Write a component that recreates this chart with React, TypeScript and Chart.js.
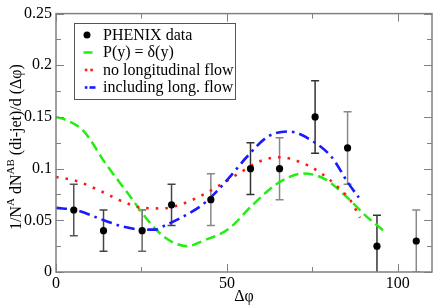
import React, { useEffect, useRef } from "react";
import { Chart, registerables } from "chart.js";

Chart.register(...registerables);

// ---- data ----
const phenixX = [5.2, 13.9, 25.2, 33.8, 45.3, 56.9, 65.4, 75.8, 85.3, 93.9, 105.4];
const phenixY = [0.06, 0.04, 0.04, 0.065, 0.07, 0.1, 0.1, 0.15, 0.12, 0.025, 0.03];
const phenixLow = [0.035, 0.02, 0.02, 0.045, 0.045, 0.075, 0.07, 0.115, 0.085, -0.005, 0.0];
const phenixHigh = [0.085, 0.06, 0.06, 0.085, 0.095, 0.125, 0.13, 0.185, 0.155, 0.055, 0.06];
const errorBarColors = ["#555", "#444", "#666", "#444", "#888", "#333", "#888", "#333", "#888", "#333", "#888"];

const deltaX = [0, 3, 7.9, 14.7, 21.5, 26.4, 30.3, 34, 38.5, 42.9, 50.6, 57.4, 65.2, 72.4, 78.8, 84.6, 90.4, 96.2];
const deltaY = [0.15, 0.147, 0.137, 0.104, 0.074, 0.052, 0.0377, 0.029, 0.025, 0.03, 0.042, 0.0645, 0.0866, 0.0953, 0.0897, 0.074, 0.055, 0.039];

const noFlowX = [0, 6, 13.8, 19.6, 25.4, 31.2, 37, 42.6, 48.2, 54.5, 60.3, 65.7, 70.9, 76.7, 82.5, 86.4, 88.9];
const noFlowY = [0.092, 0.088, 0.0772, 0.068, 0.062, 0.0615, 0.066, 0.074, 0.0845, 0.0975, 0.108, 0.111, 0.107, 0.0975, 0.082, 0.068, 0.0525];

const longFlowX = [0, 6, 13.8, 19.6, 25.4, 29, 31.7, 38, 43.8, 50.6, 56, 62, 68.1, 74.9, 80.7, 85.5, 88.6];
const longFlowY = [0.062, 0.0598, 0.0503, 0.044, 0.041, 0.041, 0.0447, 0.055, 0.0676, 0.091, 0.112, 0.131, 0.136, 0.127, 0.111, 0.086, 0.072];

const xTickValues = [0, 50, 100];
const yTickValues = [0, 0.05, 0.1, 0.15, 0.2, 0.25];
const yTickLabels = ["0", "0.05", "0.1", "0.15", "0.2", "0.25"];
const xMinorStep = 25;
const yMinorStep = 0.025;

const legendLabels = ["PHENIX data", "P(y) = \u03b4(y)", "no longitudinal flow", "including long. flow"];
const yTitleParts: { t: string; sup: boolean }[] = [
  { t: "1/N", sup: false },
  { t: "A", sup: true },
  { t: " dN", sup: false },
  { t: "AB", sup: true },
  { t: " (di-jet)/d (\u0394\u03c6)", sup: false },
];

const SERIF = '"Liberation Serif", "Times New Roman", serif';
const GREEN = "#22ee11";
const RED = "#ff1a1a";
const BLUE = "#1a1aff";

function toXY(xs: number[], ys: number[]) {
  return xs.map((x, i) => ({ x, y: ys[i] }));
}

const decor = {
  id: "decor",
  beforeDatasetsDraw(chart: any) {
    const { ctx, chartArea } = chart;
    const xs = chart.scales.x;
    const ys = chart.scales.y;
    ctx.save();
    ctx.beginPath();
    ctx.rect(chartArea.left, chartArea.top, chartArea.right - chartArea.left, chartArea.bottom - chartArea.top);
    ctx.clip();
    ctx.lineWidth = 1.5;
    phenixX.forEach((x, i) => {
      const px = xs.getPixelForValue(x);
      const pl = ys.getPixelForValue(phenixLow[i]);
      const ph = ys.getPixelForValue(phenixHigh[i]);
      ctx.strokeStyle = errorBarColors[i];
      ctx.beginPath();
      ctx.moveTo(px, pl);
      ctx.lineTo(px, ph);
      ctx.moveTo(px - 4, ph);
      ctx.lineTo(px + 4, ph);
      ctx.moveTo(px - 4, pl);
      ctx.lineTo(px + 4, pl);
      ctx.stroke();
    });
    ctx.restore();
  },
  afterDraw(chart: any) {
    const { ctx, chartArea } = chart;
    const { left, right, top, bottom } = chartArea;
    const xs = chart.scales.x;
    const ys = chart.scales.y;
    ctx.save();
    // frame
    ctx.strokeStyle = "#808080";
    ctx.lineWidth = 1.5;
    ctx.strokeRect(left, top, right - left, bottom - top);
    // ticks
    ctx.lineWidth = 1;
    ctx.beginPath();
    for (let v = 0; v <= xs.max + 1e-9; v += xMinorStep) {
      const px = Math.round(xs.getPixelForValue(v)) + 0.5;
      const len = Math.abs(v % 50) < 1e-9 ? 8 : 5;
      ctx.moveTo(px, bottom);
      ctx.lineTo(px, bottom - len);
      ctx.moveTo(px, top);
      ctx.lineTo(px, top + len);
    }
    for (let k = 0; k * yMinorStep <= ys.max + 1e-9; k++) {
      const v = k * yMinorStep;
      const py = Math.round(ys.getPixelForValue(v)) + 0.5;
      const len = k % 2 === 0 ? 8 : 5;
      ctx.moveTo(left, py);
      ctx.lineTo(left + len, py);
      ctx.moveTo(right, py);
      ctx.lineTo(right - len, py);
    }
    ctx.stroke();

    // legend
    const bx = 74.5, by = 23.5, bw = 161, bh = 76;
    ctx.fillStyle = "#fff";
    ctx.fillRect(bx, by, bw, bh);
    ctx.strokeStyle = "#555";
    ctx.lineWidth = 1;
    ctx.strokeRect(bx, by, bw, bh);
    const rows = [35, 52.5, 70, 87.5];
    ctx.fillStyle = "#000";
    ctx.beginPath();
    ctx.arc(87, rows[0], 3.5, 0, Math.PI * 2);
    ctx.fill();
    ctx.lineWidth = 2.5;
    ctx.strokeStyle = GREEN;
    ctx.beginPath();
    ctx.moveTo(83.5, rows[1]);
    ctx.lineTo(92.5, rows[1]);
    ctx.stroke();
    ctx.fillStyle = RED;
    ctx.fillRect(84.8, rows[2] - 1.3, 2.6, 2.6);
    ctx.fillRect(90.3, rows[2] - 1.3, 2.6, 2.6);
    ctx.fillStyle = BLUE;
    ctx.fillRect(84.8, rows[3] - 1.3, 2.6, 2.6);
    ctx.fillRect(89.5, rows[3] - 1.3, 6, 2.6);
    ctx.fillStyle = "#000";
    ctx.font = `16px ${SERIF}`;
    ctx.textBaseline = "middle";
    ctx.textAlign = "left";
    legendLabels.forEach((t, i) => ctx.fillText(t, 103, rows[i] + 0.5));

    // y title with superscripts
    const big = `16px ${SERIF}`;
    const small = `11px ${SERIF}`;
    let total = 0;
    yTitleParts.forEach((p) => {
      ctx.font = p.sup ? small : big;
      total += ctx.measureText(p.t).width;
    });
    ctx.translate(17, 147);
    ctx.rotate(-Math.PI / 2);
    let cx = -total / 2;
    ctx.textBaseline = "middle";
    yTitleParts.forEach((p) => {
      ctx.font = p.sup ? small : big;
      ctx.fillText(p.t, cx, p.sup ? -6 : 0);
      cx += ctx.measureText(p.t).width;
    });
    ctx.restore();
  },
};

export default function App() {
  const ref = useRef<HTMLCanvasElement>(null);
  useEffect(() => {
    if (!ref.current) return;
    const chart = new Chart(ref.current, {
      type: "scatter",
      data: {
        datasets: [
          {
            label: legendLabels[0],
            data: toXY(phenixX, phenixY),
            showLine: false,
            pointRadius: 3.6,
            pointBackgroundColor: "#000",
            pointBorderColor: "#000",
            borderWidth: 0,
            order: 0,
          },
          {
            label: legendLabels[1],
            data: toXY(deltaX, deltaY),
            showLine: true,
            pointRadius: 0,
            borderColor: GREEN,
            borderWidth: 2.5,
            borderDash: [10, 5],
            cubicInterpolationMode: "monotone",
            order: 3,
          },
          {
            label: legendLabels[2],
            data: toXY(noFlowX, noFlowY),
            showLine: true,
            pointRadius: 0,
            borderColor: RED,
            borderWidth: 2.6,
            borderDash: [2.6, 7],
            cubicInterpolationMode: "monotone",
            order: 2,
          },
          {
            label: legendLabels[3],
            data: toXY(longFlowX, longFlowY),
            showLine: true,
            pointRadius: 0,
            borderColor: BLUE,
            borderWidth: 2.6,
            borderDash: [11, 5, 2.6, 5],
            cubicInterpolationMode: "monotone",
            order: 1,
          },
        ],
      },
      options: {
        responsive: false,
        animation: false,
        devicePixelRatio: 1,
        layout: { padding: { top: 7, right: 2, left: 0, bottom: 0 } },
        plugins: { legend: { display: false }, tooltip: { enabled: false }, title: { display: false } },
        scales: {
          x: {
            type: "linear",
            min: 0,
            max: 110,
            grid: { display: false, drawTicks: false },
            border: { display: false },
            afterBuildTicks: (s: any) => {
              s.ticks = xTickValues.map((v) => ({ value: v }));
            },
            afterFit: (s: any) => {
              s.height = 34;
            },
            ticks: { color: "#000", font: { family: SERIF, size: 16 }, padding: 2, maxRotation: 0, callback: (v: any) => String(v) },
            title: { display: true, text: "\u0394\u03c6", color: "#000", font: { family: SERIF, size: 16 }, padding: { top: 0, bottom: 0 } },
          },
          y: {
            type: "linear",
            min: 0,
            max: 0.25,
            grid: { display: false, drawTicks: false },
            border: { display: false },
            afterBuildTicks: (s: any) => {
              s.ticks = yTickValues.map((v) => ({ value: v }));
            },
            afterFit: (s: any) => {
              s.width = 56;
            },
            ticks: {
              color: "#000",
              font: { family: SERIF, size: 16 },
              padding: 4,
              callback: (v: any) => {
                const i = yTickValues.findIndex((t) => Math.abs(t - v) < 1e-9);
                return i >= 0 ? yTickLabels[i] : "";
              },
            },
          },
        },
      },
      plugins: [decor],
    } as any);
    return () => chart.destroy();
  }, []);
  return (
    <div style={{ position: "absolute", left: 0, top: 0, width: 436, height: 306 }}>
      <canvas ref={ref} width={436} height={306} style={{ width: 436, height: 306, display: "block" }} />
    </div>
  );
}
